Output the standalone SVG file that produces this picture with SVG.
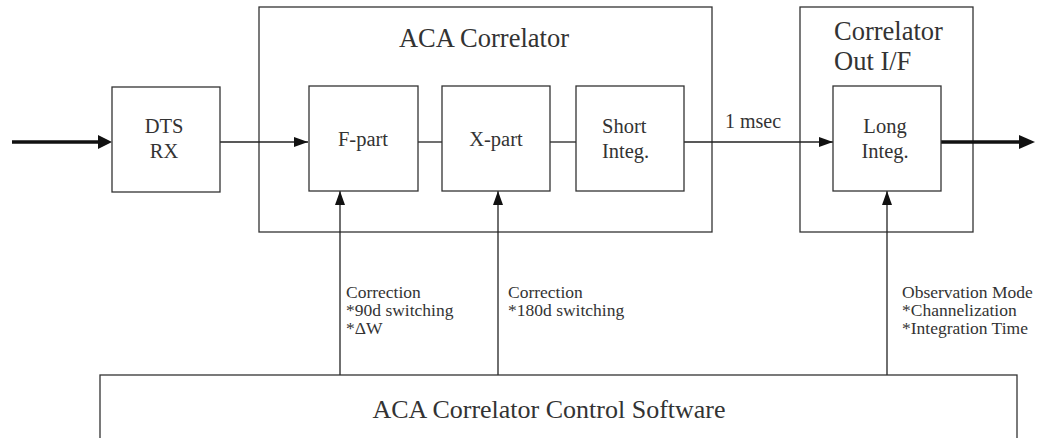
<svg xmlns="http://www.w3.org/2000/svg" width="1045" height="438" viewBox="0 0 1045 438">
  <defs>
    <marker id="arrow" markerWidth="14" markerHeight="10" refX="14" refY="5" orient="auto" markerUnits="userSpaceOnUse">
      <path d="M0,0 L14,5 L0,10 Z" fill="#111"/>
    </marker>
  </defs>
  <style>
    .box { fill: #fff; stroke: #333; stroke-width: 1.3; }
    .frame { fill: none; stroke: #333; stroke-width: 1.3; }
    .lbl { font-family: "Liberation Serif", "Times New Roman", serif; fill: #333; }
    .inner { font-size: 20.5px; }
    .title { font-size: 26.5px; }
    .note { font-size: 17.5px; }
    .wire { stroke: #222; stroke-width: 1.3; fill: none; }
    .thick { stroke: #111; stroke-width: 3.5; fill: none; }
  </style>
  <rect width="1045" height="438" fill="#fff"/>

  <!-- container frames -->
  <g id="aca-correlator">
    <rect class="frame" x="259" y="7" width="453" height="225"/>
    <text class="lbl title" x="484" y="47" text-anchor="middle">ACA Correlator</text>
  </g>
  <g id="correlator-out-if">
    <rect class="frame" x="800" y="7" width="173" height="225"/>
    <text class="lbl title" x="834" y="40">Correlator</text>
    <text class="lbl title" x="834" y="70">Out I/F</text>
  </g>

  <!-- connectors -->
  <g id="connectors">
    <line class="thick" x1="12" y1="142" x2="101" y2="142"/>
    <path d="M98,135 L112,142 L98,149 Z" fill="#111"/>
    <line class="wire" x1="220" y1="142" x2="308" y2="142" marker-end="url(#arrow)"/>
    <line class="wire" x1="418" y1="142" x2="442" y2="142"/>
    <line class="wire" x1="550" y1="142" x2="576" y2="142"/>
    <line class="wire" x1="684" y1="142" x2="833" y2="142" marker-end="url(#arrow)"/>
    <line class="thick" x1="941" y1="142" x2="1022" y2="142"/>
    <path d="M1019,135 L1035,142 L1019,149 Z" fill="#111"/>
    <line class="wire" x1="340" y1="375" x2="340" y2="191" marker-end="url(#arrow)"/>
    <line class="wire" x1="498" y1="375" x2="498" y2="191" marker-end="url(#arrow)"/>
    <line class="wire" x1="887" y1="375" x2="887" y2="191" marker-end="url(#arrow)"/>
    <text class="lbl" x="725" y="128" style="font-size:20px">1 msec</text>
    <text class="lbl note" x="346" y="298">Correction</text>
    <text class="lbl note" x="346" y="316">*90d switching</text>
    <text class="lbl note" x="346" y="334">*ΔW</text>
    <text class="lbl note" x="508" y="298">Correction</text>
    <text class="lbl note" x="508" y="316">*180d switching</text>
    <text class="lbl note" x="902" y="298">Observation Mode</text>
    <text class="lbl note" x="902" y="316">*Channelization</text>
    <text class="lbl note" x="902" y="334">*Integration  Time</text>
  </g>

  <!-- blocks -->
  <g id="dts-rx">
    <rect class="box" x="112" y="87" width="108" height="105"/>
    <text class="lbl inner" x="164" y="133" text-anchor="middle">DTS</text>
    <text class="lbl inner" x="164" y="158" text-anchor="middle">RX</text>
  </g>
  <g id="f-part">
    <rect class="box" x="309" y="86" width="109" height="105"/>
    <text class="lbl inner" x="363" y="146" text-anchor="middle">F-part</text>
  </g>
  <g id="x-part">
    <rect class="box" x="442" y="86" width="108" height="105"/>
    <text class="lbl inner" x="496" y="146" text-anchor="middle">X-part</text>
  </g>
  <g id="short-integ">
    <rect class="box" x="576" y="86" width="108" height="105"/>
    <text class="lbl inner" x="602" y="133">Short</text>
    <text class="lbl inner" x="602" y="158">Integ.</text>
  </g>
  <g id="long-integ">
    <rect class="box" x="833" y="86" width="108" height="105"/>
    <text class="lbl inner" x="885" y="133" text-anchor="middle">Long</text>
    <text class="lbl inner" x="885" y="158" text-anchor="middle">Integ.</text>
  </g>
  <g id="control-software">
    <rect class="box" x="100" y="375" width="917" height="80"/>
    <text class="lbl" x="549" y="418" text-anchor="middle" style="font-size:26px">ACA Correlator Control Software</text>
  </g>
</svg>
